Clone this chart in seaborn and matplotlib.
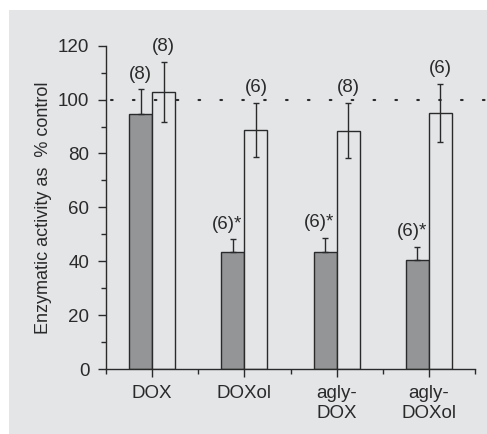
import numpy as np
import pandas as pd
import seaborn as sns
import matplotlib.pyplot as plt
from matplotlib.patches import Rectangle
from matplotlib.ticker import MultipleLocator, FixedLocator

categories = ['DOX', 'DOXol', 'agly-\nDOX', 'agly-\nDOXol']
treated = [94.5, 43.3, 43.3, 40.6]
treated_err = [9.3, 4.8, 5.4, 4.8]
treated_n = ['(8)', '(6)*', '(6)*', '(6)*']
control = [102.9, 88.8, 88.5, 94.9]
control_err = [11.2, 10.1, 10.2, 10.8]
control_n = ['(8)', '(6)', '(8)', '(6)']

bg = '#e4e5e7'
ink = '#2a2a2a'

df = pd.DataFrame({
    'cat': categories * 2,
    'val': treated + control,
    'grp': ['treated'] * 4 + ['control'] * 4,
})

sns.set_style('ticks')
plt.rcParams['font.family'] = ['Liberation Sans', 'DejaVu Sans']

fig = plt.figure(figsize=(4.87, 4.34), dpi=100)
fig.patch.set_facecolor(bg)
# white margin on the left and top
fig.patches.append(Rectangle((0, 0), 9 / 487, 1, transform=fig.transFigure,
                             facecolor='white', edgecolor='none', zorder=-10))
fig.patches.append(Rectangle((0, 1 - 10 / 434), 1, 10 / 434, transform=fig.transFigure,
                             facecolor='white', edgecolor='none', zorder=-10))
ax = fig.add_axes([106 / 487, 1 - 369 / 434, 369 / 487, 323.3 / 434])
ax.set_facecolor('none')

sns.barplot(data=df, x='cat', y='val', hue='grp', palette=['#939598', bg],
            width=0.5, gap=0, errorbar=None, edgecolor=ink, linewidth=1,
            legend=False, ax=ax)

bars = list(ax.containers)
errs = [treated_err, control_err]
labels = [treated_n, control_n]
for k, cont in enumerate(bars):
    xs = [b.get_x() + b.get_width() / 2 for b in cont]
    hs = [b.get_height() for b in cont]
    e = np.array(errs[k])
    lower = np.zeros(4) if k == 0 else e
    ax.errorbar(xs, hs, yerr=[lower, e], fmt='none', ecolor=ink, elinewidth=1,
                capsize=2.5, capthick=1, zorder=5)
    for x, h, ee, lab in zip(xs, hs, e, labels[k]):
        dx = -0.06 if '*' in lab else 0
        ax.text(x + dx, h + ee + 2.5, lab, ha='center', va='bottom',
                fontsize=13.5, color=ink)

# control level
ax.plot([-0.445, 3.63], [100, 100], color=ink, lw=1.5, linestyle=(0, (0.8, 9.7)),
        dash_capstyle='round', clip_on=False, zorder=1)

ax.set_xlim(-0.5, 3.5)
ax.set_ylim(0, 120)
ax.yaxis.set_major_locator(MultipleLocator(20))
ax.yaxis.set_minor_locator(MultipleLocator(10))
ax.xaxis.set_minor_locator(FixedLocator([-0.5, 0.5, 1.5, 2.5, 3.5]))
ax.tick_params(axis='y', which='major', length=6, width=1, color=ink,
               labelsize=13.5, labelcolor=ink, pad=6)
ax.tick_params(axis='y', which='minor', length=3.5, width=1, color=ink)
ax.tick_params(axis='x', which='major', length=5.5, width=1, color=ink,
               labelsize=13.5, labelcolor=ink, pad=6)
ax.tick_params(axis='x', which='minor', length=3.3, width=1, color=ink)
ax.set_xlabel('')
ax.set_ylabel('Enzymatic activity as  % control', fontsize=13, color=ink, labelpad=4)
for s in ['top', 'right']:
    ax.spines[s].set_visible(False)
for s in ['left', 'bottom']:
    ax.spines[s].set_color(ink)
    ax.spines[s].set_linewidth(1)

fig.savefig('out.png', dpi=100)
